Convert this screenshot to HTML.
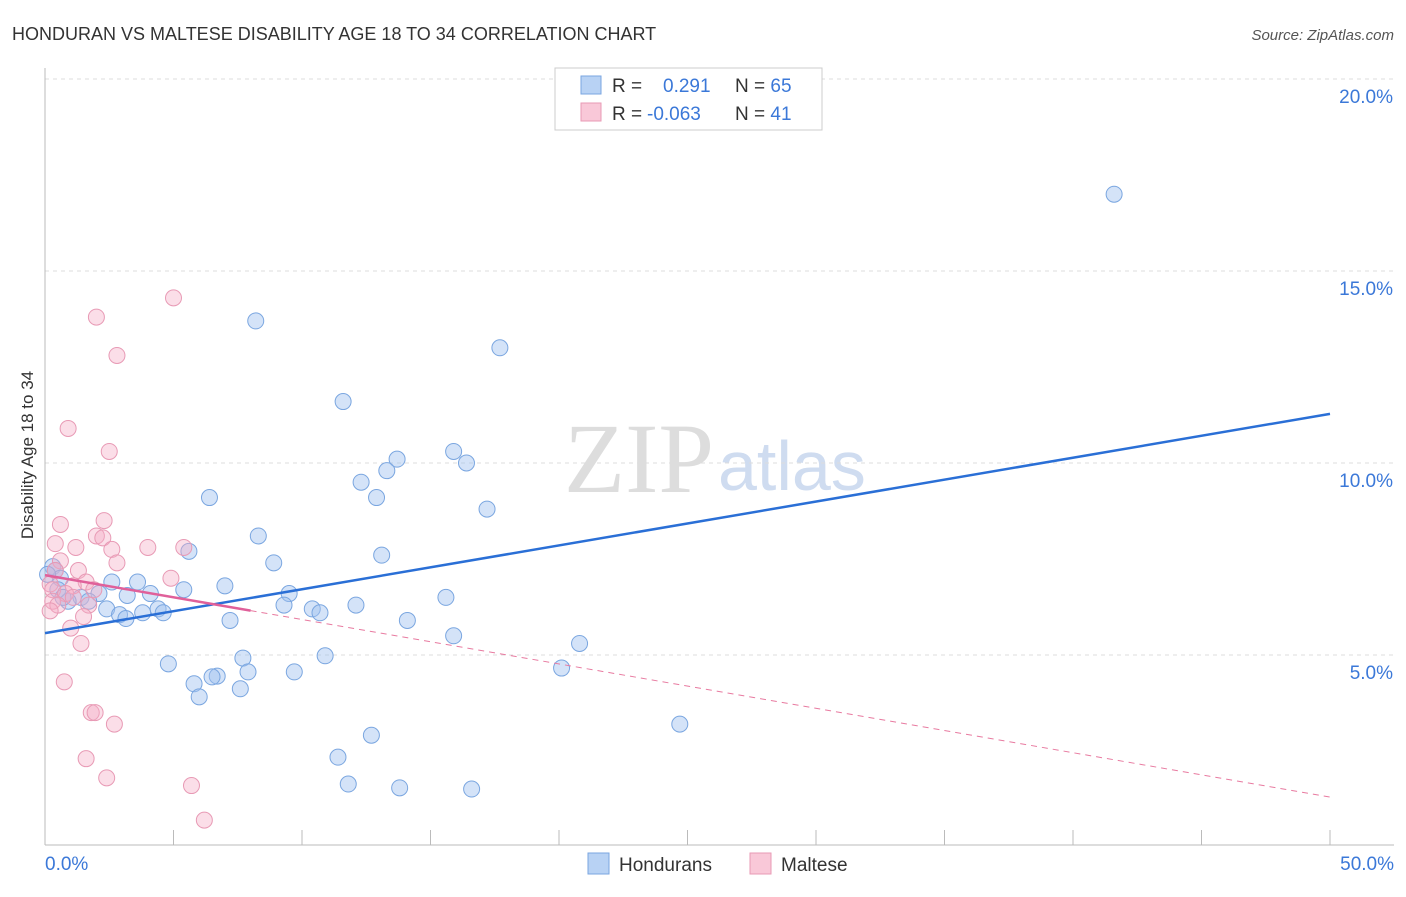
<!DOCTYPE html>
<html><head><meta charset="utf-8"><style>
body{margin:0;background:#fff;font-family:"Liberation Sans",sans-serif;}
svg text{font-family:"Liberation Sans",sans-serif;}
</style></head><body>
<svg width="1406" height="892">
<text x="12" y="40" font-size="18" fill="#333">HONDURAN VS MALTESE DISABILITY AGE 18 TO 34 CORRELATION CHART</text>
<text x="1394" y="40" font-size="15" fill="#555" text-anchor="end" font-style="italic">Source: ZipAtlas.com</text>
<text x="714" y="492" font-size="100" fill="#ddd" text-anchor="end" style="font-family:'Liberation Serif',serif">ZIP</text>
<text x="718" y="490" font-size="70" fill="#cfdcf0">atlas</text>
<g id="grid"></g><g id="axes"></g><g id="marks"></g>
<text x="33" y="455" font-size="17" fill="#333" text-anchor="middle" transform="rotate(-90 33 455)">Disability Age 18 to 34</text>
<g>
<rect x="555" y="68" width="267" height="62" fill="#fff" stroke="#ccc"/>
<rect x="581" y="76" width="20" height="18" fill="#b8d2f4" stroke="#7aa6e0"/>
<rect x="581" y="103" width="20" height="18" fill="#f9c8d8" stroke="#e89ab5"/>
<text x="612" y="92" font-size="19" fill="#333">R = <tspan fill="#3b78d8" x="663">0.291</tspan><tspan x="735" fill="#333">N = </tspan><tspan fill="#3b78d8">65</tspan></text>
<text x="612" y="120" font-size="19" fill="#333">R = <tspan fill="#3b78d8" x="647">-0.063</tspan><tspan x="735" fill="#333">N = </tspan><tspan fill="#3b78d8"> 41</tspan></text>
</g>
<g>
<rect x="588" y="853" width="21" height="21" fill="#b8d2f4" stroke="#7aa6e0"/>
<text x="619" y="871" font-size="19" fill="#333">Hondurans</text>
<rect x="750" y="853" width="21" height="21" fill="#f9c8d8" stroke="#e89ab5"/>
<text x="781" y="871" font-size="19" fill="#333">Maltese</text>
</g>
</svg>
<script>
const yTicks=[5,10,15,20];
const blueX=[41.6,8.2,17.7,11.6,15.9,13.7,16.4,13.3,12.3,12.9,6.4,17.2,8.3,13.1,5.6,8.9,3.6,2.6,5.4,7.0,9.5,4.1,2.1,3.2,1.4,0.9,15.6,1.7,9.3,12.1,10.4,4.4,10.7,2.4,3.8,2.9,4.6,3.15,7.2,14.1,15.9,20.8,10.9,7.7,4.8,20.1,7.9,9.7,6.7,6.5,5.8,7.6,6.0,24.7,12.7,11.4,11.8,13.8,16.6,0.3,0.4,0.6,0.1,0.5,0.7];
const blueY=[17.0,13.7,13.0,11.6,10.3,10.1,10.0,9.8,9.5,9.1,9.1,8.8,8.1,7.6,7.7,7.4,6.9,6.9,6.7,6.8,6.6,6.6,6.6,6.55,6.5,6.4,6.5,6.4,6.3,6.3,6.2,6.2,6.1,6.2,6.1,6.05,6.1,5.95,5.9,5.9,5.5,5.3,4.98,4.92,4.77,4.66,4.56,4.56,4.45,4.43,4.25,4.12,3.91,3.2,2.91,2.34,1.64,1.54,1.51,7.3,7.2,7.0,7.1,6.7,6.5];
const pinkX=[5.0,2.0,2.8,0.9,2.5,0.6,2.3,0.4,2.0,2.25,1.2,4.0,5.4,2.6,0.6,2.8,1.3,4.9,1.6,1.1,0.2,0.3,1.9,0.8,1.1,0.3,0.5,1.7,0.2,1.5,1.0,1.4,0.75,1.8,1.95,2.7,1.6,2.4,5.7,6.2,0.4];
const pinkY=[14.3,13.8,12.8,10.9,10.3,8.4,8.5,7.9,8.1,8.05,7.8,7.8,7.8,7.75,7.45,7.4,7.2,7.0,6.9,6.8,6.85,6.7,6.7,6.6,6.5,6.4,6.3,6.3,6.15,6.0,5.7,5.3,4.3,3.5,3.5,3.2,2.3,1.8,1.6,0.7,7.2];
const blueTrend=[5.57,11.28];
const pinkTrend=[7.08,1.30];
const pinkSolidEnd=8;
const X=v=>45+v/50*1285, Y=v=>847-v*38.4;
const NS="http://www.w3.org/2000/svg";
function mk(tag,attrs,parent){const e=document.createElementNS(NS,tag);for(const k in attrs)e.setAttribute(k,attrs[k]);document.getElementById(parent).appendChild(e);return e;}
yTicks.forEach(t=>{
 const l=mk('line',{x1:45,x2:1394,y1:Y(t),y2:Y(t),stroke:'#ddd','stroke-dasharray':'4,4'},'grid');
 
 
 const tx=mk('text',{x:1393,y:Y(t)+24,'font-size':19,fill:'#3b78d8','text-anchor':'end'},'axes');
 tx.textContent=t.toFixed(1)+'%';
 
 
});
let a=mk('line',{x1:45,x2:45,y1:68,y2:845,stroke:'#bbb'},'axes');


a=mk('line',{x1:45,x2:1394,y1:845,y2:845,stroke:'#bbb'},'axes');


for(let i=0;i<=10;i++){const t=mk('line',{x1:X(i*5),x2:X(i*5),y1:830,y2:845,stroke:'#bbb'},'axes');
 
 }
[[0,'0.0%','start',45],[50,'50.0%','end',1394]].forEach(d=>{const t=mk('text',{x:d[3],y:870,'font-size':19,fill:'#3b78d8','text-anchor':d[2]},'axes');t.textContent=d[1];
 
 });
blueX.forEach((x,i)=>{const c=mk('circle',{cx:X(x),cy:Y(blueY[i]),r:8,fill:'rgba(160,194,240,0.45)',stroke:'#7aa6e0','stroke-width':1},'marks');
 
 });
pinkX.forEach((x,i)=>{const c=mk('circle',{cx:X(x),cy:Y(pinkY[i]),r:8,fill:'rgba(246,172,198,0.4)',stroke:'#e89ab5','stroke-width':1},'marks');
 
 });
let l=mk('line',{x1:X(0),y1:Y(blueTrend[0]),x2:X(50),y2:Y(blueTrend[1]),stroke:'#2a6fd6','stroke-width':2.5},'marks');


const py=x=>pinkTrend[0]+(pinkTrend[1]-pinkTrend[0])*x/50;
l=mk('line',{x1:X(pinkSolidEnd),y1:Y(py(pinkSolidEnd)),x2:X(50),y2:Y(pinkTrend[1]),stroke:'#e87aa0','stroke-width':1,'stroke-dasharray':'6,5'},'marks');


l=mk('line',{x1:X(0),y1:Y(pinkTrend[0]),x2:X(pinkSolidEnd),y2:Y(py(pinkSolidEnd)),stroke:'#e0609a','stroke-width':2.5},'marks');


</script>
</body></html>
